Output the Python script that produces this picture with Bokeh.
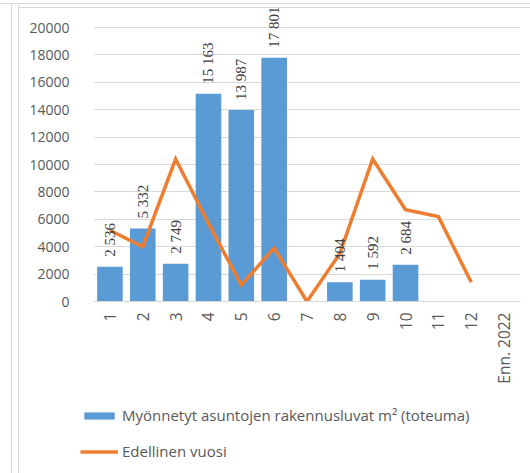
import math
from bokeh.plotting import figure
from bokeh.models import (ColumnDataSource, FactorRange, LabelSet, Legend, LegendItem,
                          FixedTicker, NumeralTickFormatter, Range1d)
from bokeh.embed import file_html
from bokeh.resources import INLINE

categories = ["1", "2", "3", "4", "5", "6", "7", "8", "9", "10", "11", "12", "Enn. 2022"]
bar_months = ["1", "2", "3", "4", "5", "6", "7", "8", "9", "10"]
bar_values = [2536, 5332, 2749, 15163, 13987, 17801, 0, 1404, 1592, 2684]
bar_labels = ["2 536", "5 332", "2 749", "15 163", "13 987", "17 801", "", "1 404", "1 592", "2 684"]
line_months = ["1", "2", "3", "4", "5", "6", "7", "8", "9", "10", "11", "12"]
line_values = [5200, 4000, 10400, 5700, 1200, 3900, 0, 3500, 10400, 6700, 6200, 1400]
y_ticks = [0, 2000, 4000, 6000, 8000, 10000, 12000, 14000, 16000, 18000, 20000]
legend_labels = ["Myönnetyt asuntojen rakennusluvat m² (toteuma)", "Edellinen vuosi"]

BLUE = "#5B9BD5"
ORANGE = "#ED7D31"
FONT = "Open Sans"
LINES_LEFT = ("inset 11px 0 0 0 #fff, inset 12px 0 0 0 #d9d9d9, "
              "inset 18px 0 0 0 #fff, inset 19px 0 0 0 #d9d9d9")

p = figure(x_range=FactorRange(*categories, range_padding=0), y_range=(0, 21971),
           width=530, height=392, output_backend="svg", toolbar_location=None,
           min_border_left=93, min_border_right=10, min_border_top=0, min_border_bottom=91)
p.border_fill_alpha = 0
p.background_fill_alpha = 0
p.outline_line_color = None
p.styles = {"background": "white",
            "box-shadow": "inset 0 3px 0 0 #fff, inset 0 4px 0 0 #d9d9d9, " + LINES_LEFT +
                          ", inset 0 7px 0 0 #fff, inset 0 8px 0 0 #d9d9d9"}

bar_src = ColumnDataSource(dict(x=bar_months, top=bar_values, label=bar_labels))
bars = p.vbar(x="x", top="top", width=0.78, source=bar_src, fill_color=BLUE, line_color=None)
line_src = ColumnDataSource(dict(x=line_months, y=line_values))
ln = p.line(x="x", y="y", source=line_src, line_color=ORANGE, line_width=3.5, line_join="miter")

labels = LabelSet(x="x", y="top", text="label", source=bar_src, angle=math.pi / 2,
                  y_offset=10, text_align="left", text_baseline="middle",
                  text_font=FONT, text_font_size="15px", text_color="#404040")
p.add_layout(labels)

p.xgrid.grid_line_color = None
p.ygrid.grid_line_color = "#d9d9d9"
p.ygrid.ticker = FixedTicker(ticks=y_ticks)

p.yaxis.ticker = FixedTicker(ticks=y_ticks)
p.yaxis.formatter = NumeralTickFormatter(format="0")
p.yaxis.axis_line_color = None
p.yaxis.major_tick_line_color = None
p.yaxis.minor_tick_line_color = None
p.yaxis.major_label_standoff = 18
p.yaxis.major_label_text_font = FONT
p.yaxis.major_label_text_font_size = "14px"
p.yaxis.major_label_text_color = "#595959"

p.xaxis.axis_line_color = "#d9d9d9"
p.xaxis.major_tick_line_color = None
p.xaxis.major_label_orientation = math.pi / 2
p.xaxis.major_label_standoff = 5
p.xaxis.major_label_text_font = FONT
p.xaxis.major_label_text_font_size = "15.5px"
p.xaxis.major_label_text_color = "#595959"

# legend strip below the chart (separate root so it is not frame-aligned)
lg = figure(width=530, height=81, output_backend="svg", toolbar_location=None,
            x_range=FactorRange(*categories), y_range=Range1d(0, 1), min_border=0)
lg.border_fill_alpha = 0
lg.background_fill_alpha = 0
lg.outline_line_color = None
lg.axis.visible = False
lg.grid.visible = False
lg.styles = {"box-shadow": LINES_LEFT}
lb = lg.vbar(x="x", top="top", width=0.78, source=bar_src, fill_color=BLUE, line_color=None, visible=False)
ll = lg.line(x="x", y="y", source=line_src, line_color=ORANGE, line_width=3.5, visible=False)
legend = Legend(items=[LegendItem(label=legend_labels[0], renderers=[lb]),
                       LegendItem(label=legend_labels[1], renderers=[ll])],
                location=(80, 12), orientation="vertical",
                label_text_font=FONT, label_text_font_size="15px", label_text_color="#595959",
                glyph_width=38, glyph_height=9, label_height=20, spacing=16, label_standoff=4,
                padding=0, margin=0, border_line_color=None, background_fill_alpha=0,
                inactive_fill_alpha=0)
lg.add_layout(legend, "center")

open("out.html", "w").write(file_html([p, lg], INLINE))
